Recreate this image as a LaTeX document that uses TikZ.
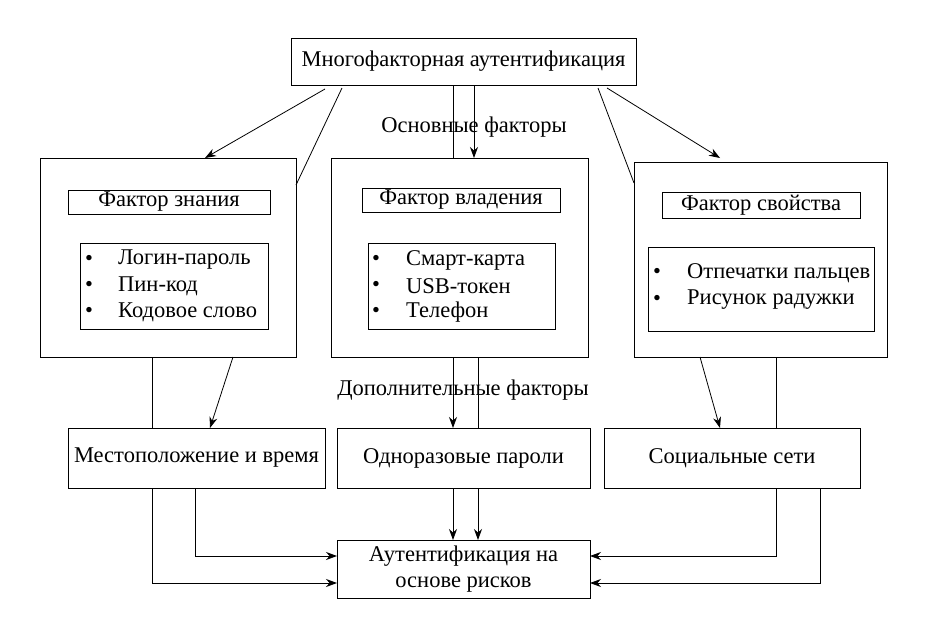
\documentclass[tikz,border=0pt]{standalone}
\usepackage{fontspec}
\setmainfont{Liberation Serif}
\usetikzlibrary{arrows.meta}
\begin{document}
\begin{tikzpicture}[x=1pt,y=-1pt,
 bx/.style={draw,line width=0.8pt},
 t/.style={font=\fontsize{22.5}{26}\selectfont,inner sep=0pt},
 ar/.style={-{Stealth[length=11pt,width=8pt]},line width=0.8pt},
 ln/.style={line width=0.8pt}]
\useasboundingbox (0,0) rectangle (929,624);
\draw[bx] (291,38) rectangle (636,85); \node[t] (top) at (463.5,61.5) {Многофакторная аутентификация};
\draw[bx] (40,158) rectangle (296,357);
\draw[bx] (331,158) rectangle (588,357);
\draw[bx] (634,162) rectangle (887,357);
\draw[bx] (68,190) rectangle (270,214); \node[t] at (169,202) {Фактор знания};
\draw[bx] (362,188) rectangle (560,212); \node[t] at (461,200) {Фактор владения};
\draw[bx] (662,192) rectangle (860,218); \node[t] at (761,205) {Фактор свойства};
\draw[bx] (80,243) rectangle (268,329);
\draw[bx] (368,243) rectangle (555,329);
\draw[bx] (648,247) rectangle (874,331);
\foreach \y/\s in {260/Логин-пароль,286/Пин-код,312/Кодовое слово}{\node[t] at (89,\y){•};\node[t,anchor=west] at (118,\y){\s};}
\foreach \y/\s in {260/Смарт-карта,286/USB-токен,312/Телефон}{\node[t] at (376,\y){•};\node[t,anchor=west] at (406,\y){\s};}
\foreach \y/\s in {273/Отпечатки пальцев,300/Рисунок радужки}{\node[t] at (657,\y){•};\node[t,anchor=west] at (687,\y){\s};}
\node[t] at (474,127) {Основные факторы};
\node[t] at (463,390) {Дополнительные факторы};
\draw[bx] (68,428) rectangle (325,488); \node[t] at (196.5,458) {Местоположение и время};
\draw[bx] (337,428) rectangle (590,488); \node[t] at (463.5,458) {Одноразовые пароли};
\draw[bx] (604,428) rectangle (860,488); \node[t] at (732,458) {Социальные сети};
\draw[bx] (337,540) rectangle (590,598); \node[t,align=center] at (463.5,569) {Аутентификация на\\основе рисков};
\draw[ar] (325,89)--(205,158); \draw[ln] (342,88)--(296,185);
\draw[ln] (453,85)--(453,158); \draw[ar] (474,85)--(474,158);
\draw[ln] (598,88)--(634,183); \draw[ar] (607,88)--(720,158);
\draw[ln] (152,357)--(152,428); \draw[ar] (233,357)--(210,428);
\draw[ar] (453,357)--(453,428); \draw[ln] (478,357)--(478,428);
\draw[ar] (700,357)--(720,428); \draw[ln] (776,357)--(776,428);
\draw[ar] (152,488)|-(337,583); \draw[ar] (195,488)|-(337,556);
\draw[ar] (453,488)--(453,540); \draw[ar] (478,488)--(478,540);
\draw[ar] (776,488)|-(590,556); \draw[ar] (820,488)|-(590,583);
\end{tikzpicture}
\end{document}
